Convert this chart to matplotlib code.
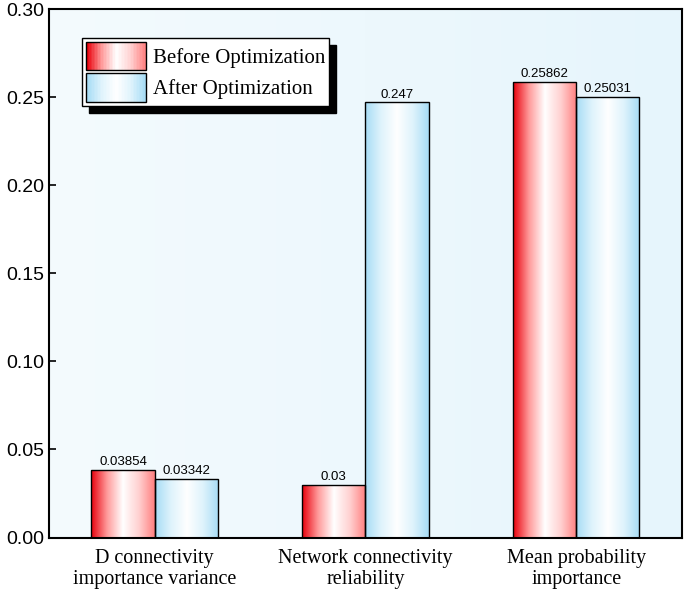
import numpy as np
import matplotlib
matplotlib.use("Agg")
import matplotlib.pyplot as plt
from matplotlib.patches import Rectangle, Patch
from matplotlib.colors import LinearSegmentedColormap
from matplotlib.legend_handler import HandlerPatch

categories = ["D connectivity\nimportance variance", "Network connectivity\nreliability", "Mean probability\nimportance"]
before = [0.03854, 0.03, 0.25862]
after = [0.03342, 0.247, 0.25031]
before_lbl = ["0.03854", "0.03", "0.25862"]
after_lbl = ["0.03342", "0.247", "0.25031"]
yticks = [0.0, 0.05, 0.10, 0.15, 0.20, 0.25, 0.30]

fig = plt.figure(figsize=(6.85, 6.04), dpi=100)
ax = fig.add_axes([0.072, 0.11, 0.923, 0.875])
ax.set_xlim(-0.5, 2.5)
ax.set_ylim(0, 0.30)

bg = LinearSegmentedColormap.from_list("bg", ["#f4fbfe", "#e6f5fc"])
ax.imshow(np.linspace(0, 1, 256).reshape(1, -1), cmap=bg, aspect="auto",
          extent=[-0.5, 2.5, 0, 0.30], zorder=0)

red_cm = LinearSegmentedColormap.from_list("r", ["#e8000b", "#ff9a9a", "#ffffff", "#ffd0d0", "#ff8080"])
blue_cm = LinearSegmentedColormap.from_list("b", ["#a6dcf5", "#dff3fc", "#ffffff", "#dff3fc", "#a6dcf5"])
grad = np.linspace(0, 1, 256).reshape(1, -1)

w = 0.3
x = np.arange(len(categories))
for vals, lbls, off, cm in [(before, before_lbl, -w / 2, red_cm), (after, after_lbl, w / 2, blue_cm)]:
    bars = ax.bar(x + off, vals, w, color="none", edgecolor="black", lw=1.0, zorder=3)
    for b, lb in zip(bars, lbls):
        x0, y0, bw, bh = b.get_x(), b.get_y(), b.get_width(), b.get_height()
        im = ax.imshow(grad, cmap=cm, aspect="auto", extent=[x0, x0 + bw, y0, y0 + bh], zorder=2)
        im.set_clip_path(Rectangle((x0, y0), bw, bh, transform=ax.transData))
        ax.text(x0 + bw / 2, bh + 0.001, lb, ha="center", va="bottom",
                fontsize=9.5, family="Liberation Sans", zorder=4)

ax.set_xlim(-0.5, 2.5)
ax.set_ylim(0, 0.30)
ax.set_xticks(x)
ax.set_xticklabels(categories, family="Liberation Serif", fontsize=14.5)
ax.set_yticks(yticks)
ax.set_yticklabels([f"{v:.2f}" for v in yticks], family="Liberation Sans", fontsize=14)
ax.tick_params(axis="both", direction="in", length=5, width=1.2)
ax.tick_params(axis="x", length=0, pad=8)
for s in ax.spines.values():
    s.set_linewidth(1.5)

h1 = Patch(facecolor="#ff9a9a", edgecolor="black")
h2 = Patch(facecolor="#d0eefb", edgecolor="black")

class GradHandler(HandlerPatch):
    def __init__(self, cm):
        super().__init__()
        self.cm = cm
    def create_artists(self, legend, orig, xd, yd, width, height, fontsize, trans):
        n = 40
        arts = []
        for i in range(n):
            arts.append(Rectangle((-xd + width * i / n, -yd), width / n + 0.3, height,
                                  facecolor=self.cm(i / (n - 1)), edgecolor="none", transform=trans))
        arts.append(Rectangle((-xd, -yd), width, height, facecolor="none", edgecolor="black", lw=1, transform=trans))
        return arts

leg = ax.legend([h1, h2], ["Before Optimization", "After Optimization"],
                handler_map={h1: GradHandler(red_cm), h2: GradHandler(blue_cm)},
                loc="upper left", bbox_to_anchor=(0.035, 0.965), fancybox=False,
                shadow={"color": "black", "alpha": 1.0, "ox": 5, "oy": -5},
                prop={"family": "Liberation Serif", "size": 15}, handlelength=2.9, handleheight=1.7,
                borderpad=0.2, labelspacing=0.15, handletextpad=0.3, framealpha=1)
leg.get_frame().set_edgecolor("black")
leg.get_frame().set_linewidth(1.0)

fig.savefig("out.png", dpi=100)
